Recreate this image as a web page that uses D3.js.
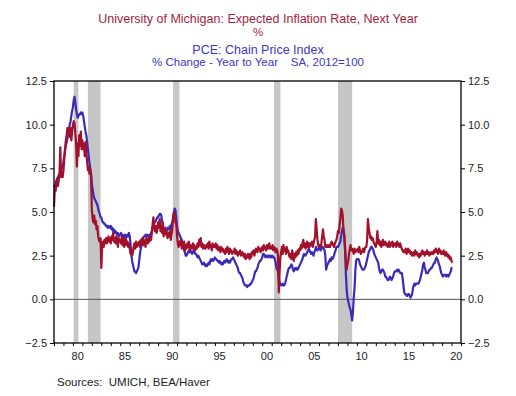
<!DOCTYPE html>
<html>
<head>
<meta charset="utf-8">
<script src="https://cdn.jsdelivr.net/npm/d3@7"></script>
<style>
  body { margin: 0; background: #fff; }
  text { font-family: "Liberation Sans", Arial, Helvetica, sans-serif; }
</style>
</head>
<body>
<div id="chart"></div>
<script>
// monthly values, Jan 1978 .. Feb 2020
const startYear = 1978;

const michigan = [
  5.3, 6.3, 6.2, 6.6, 6.9, 6.5, 6.8, 7.2, 8.7, 7.0, 7.3, 7.0,
  7.4, 8.0, 8.6, 9.1, 9.4, 9.8, 9.8, 9.7, 9.3, 9.8, 9.1, 9.6,
  10.0, 10.2, 10.1, 9.5, 9.0, 7.6, 8.9, 8.2, 9.4, 8.8, 9.6, 8.6,
  9.1, 8.6, 8.9, 8.2, 9.0, 8.4, 7.9, 7.4, 7.6, 7.2, 7.4, 7.0,
  5.1, 4.6, 4.4, 4.8, 4.3, 4.5, 4.0, 4.2, 3.6, 3.4, 3.3, 3.5,
  1.8, 3.1, 3.3, 3.0, 3.4, 3.2, 3.5, 3.2, 3.4, 3.6, 3.3, 3.5,
  3.2, 3.6, 3.4, 3.8, 3.3, 3.5, 3.2, 3.6, 3.4, 3.0, 3.5, 3.3,
  3.4, 3.2, 3.6, 3.1, 3.4, 3.0, 3.3, 3.5, 3.1, 3.3, 3.0, 3.2,
  2.9, 2.6, 2.8, 2.5, 2.7, 3.0, 3.2, 2.9, 3.3, 3.0, 3.2, 3.1,
  3.3, 3.0, 3.4, 3.2, 3.5, 3.1, 3.4, 3.3, 3.0, 3.5, 3.4, 3.2,
  3.5, 3.3, 3.6, 3.4, 3.8, 4.3, 4.7, 4.1, 3.9, 4.2, 3.8, 4.0,
  4.4, 4.1, 4.6, 3.9, 4.2, 3.8, 4.4, 3.6, 3.9, 4.1, 3.7, 3.8,
  3.5, 3.8, 3.6, 3.9, 3.4, 3.7, 4.0, 4.6, 5.0, 4.8, 4.4, 4.3,
  3.6, 3.2, 3.0, 3.3, 3.1, 3.4, 2.9, 3.2, 3.0, 3.3, 2.8, 3.1,
  2.9, 3.2, 3.0, 3.3, 2.8, 3.1, 3.0, 2.9, 3.2, 2.9, 3.1, 2.8,
  3.0, 2.9, 3.2, 3.0, 3.4, 3.1, 3.5, 3.0, 3.2, 2.9, 3.1, 3.0,
  2.9, 3.1, 3.0, 3.2, 2.9, 3.3, 3.0, 3.1, 2.8, 3.2, 3.0, 3.1,
  3.0, 3.2, 2.9, 3.1, 2.8, 3.0, 2.9, 2.7, 3.0, 2.8, 2.9, 2.7,
  2.8, 2.6, 2.9, 2.7, 3.0, 2.8, 2.6, 2.9, 2.7, 2.8, 2.6, 2.7,
  2.7, 2.9, 2.6, 2.8, 2.7, 2.5, 2.7, 2.6, 2.8, 2.5, 2.6, 2.7,
  2.5, 2.4, 2.6, 2.3, 2.5, 2.4, 2.6, 2.5, 2.3, 2.6, 2.4, 2.7,
  2.6, 2.8, 2.5, 2.7, 2.9, 2.8, 2.7, 3.0, 2.8, 2.9, 2.7, 2.9,
  3.0, 2.8, 3.1, 2.9, 3.0, 2.8, 3.1, 2.9, 3.0, 3.2, 2.9, 3.0,
  2.9, 3.1, 2.8, 3.0, 2.9, 2.7, 2.9, 2.8, 2.5, 0.4, 1.6, 2.4,
  2.7, 3.0, 2.6, 3.1, 2.8, 2.9, 2.6, 3.0, 2.7, 2.8, 2.5, 2.4,
  2.6, 2.3, 2.8, 2.5, 2.2, 2.6, 2.4, 2.7, 2.5, 2.8, 2.6, 2.9,
  2.8, 3.1, 2.9, 3.2, 3.4, 3.0, 3.2, 2.9, 3.1, 3.3, 3.0, 3.2,
  3.0, 3.2, 3.1, 3.3, 3.0, 3.2, 3.4, 3.6, 4.6, 4.0, 3.4, 3.1,
  3.0, 3.1, 3.0, 3.2, 3.6, 4.0, 3.6, 3.4, 3.0, 3.1, 3.0, 3.1,
  3.0, 3.1, 3.0, 3.2, 3.3, 3.2, 3.1, 3.0, 3.2, 3.3, 3.4, 3.6,
  3.9, 3.8, 4.2, 4.6, 5.2, 5.1, 4.8, 4.0, 3.7, 3.0, 2.2, 1.7,
  2.0, 2.2, 2.6, 2.9, 3.1, 2.8, 2.9, 2.8, 2.6, 2.9, 2.7, 2.8,
  2.8, 2.9, 2.7, 3.0, 2.8, 2.6, 2.7, 2.8, 2.9, 2.7, 2.9, 3.0,
  3.0, 3.4, 4.6, 4.1, 3.8, 3.5, 3.6, 3.4, 3.5, 3.3, 3.2, 3.1,
  3.0, 3.3, 3.9, 3.2, 3.4, 3.1, 3.3, 3.0, 3.2, 3.4, 3.1, 3.2,
  3.3, 3.1, 3.2, 3.0, 3.1, 3.3, 3.0, 3.2, 3.1, 3.3, 3.0, 3.2,
  3.1, 3.2, 3.0, 3.3, 3.1, 3.2, 3.0, 3.2, 3.0, 2.9, 2.8, 2.7,
  2.8, 2.7, 2.9, 2.6, 2.8, 2.9, 2.7, 2.8, 2.6, 2.7, 2.5, 2.6,
  2.7, 2.5, 2.8, 2.6, 2.7, 2.5, 2.6, 2.4, 2.6, 2.5, 2.7, 2.8,
  2.6, 2.7, 2.5, 2.7, 2.6, 2.8, 2.6, 2.7, 2.5, 2.6, 2.7, 2.6,
  2.7, 2.6, 2.8, 2.7, 2.9, 2.7, 2.8, 2.6, 2.9, 2.7, 2.8, 2.6,
  2.7, 2.6, 2.8, 2.6, 2.5, 2.7, 2.5, 2.6, 2.4, 2.5, 2.3, 2.4,
  2.2, 2.1
];

const pce = [
  6.4, 6.5, 6.6, 6.8, 6.9, 7.0, 7.1, 7.2, 7.3, 7.4, 7.5, 7.6,
  7.9, 8.2, 8.5, 8.8, 9.0, 9.2, 9.5, 9.8, 10.0, 10.2, 10.5, 10.8,
  11.0, 11.4, 11.6, 11.3, 10.9, 10.6, 10.4, 10.5, 10.6, 10.6, 10.7, 10.6,
  10.7, 10.5, 10.2, 9.9, 9.6, 9.4, 9.0, 8.6, 8.2, 7.8, 7.5, 7.2,
  6.6, 6.3, 6.0, 5.8, 5.7, 5.6, 5.5, 5.4, 5.2, 5.0, 4.9, 4.7,
  4.7, 4.5, 4.4, 4.4, 4.3, 4.3, 4.2, 4.2, 4.1, 4.2, 4.1, 4.1,
  4.2, 4.0, 4.1, 3.9, 4.0, 3.8, 3.9, 3.8, 3.7, 3.8, 3.6, 3.7,
  3.7, 3.8, 3.6, 3.7, 3.5, 3.6, 3.7, 3.5, 3.6, 3.7, 3.6, 3.8,
  3.6, 3.2, 2.6, 2.2, 2.0, 1.8, 1.6, 1.6, 1.5, 1.6, 1.7, 1.8,
  2.2, 2.6, 2.9, 3.1, 3.3, 3.5, 3.6, 3.6, 3.7, 3.6, 3.7, 3.6,
  3.6, 3.7, 3.6, 3.8, 3.9, 4.1, 4.3, 4.4, 4.4, 4.5, 4.6, 4.7,
  4.7, 4.8, 4.9, 4.9, 4.8, 4.5, 4.2, 3.9, 3.8, 3.9, 3.8, 3.9,
  4.1, 4.0, 4.1, 4.2, 4.0, 4.3, 4.4, 4.7, 5.0, 5.2, 5.1, 4.7,
  4.2, 3.9, 3.8, 3.7, 3.6, 3.5, 3.4, 3.2, 3.0, 2.8, 2.7, 2.5,
  2.5, 2.6, 2.7, 2.8, 2.7, 2.8, 2.7, 2.6, 2.7, 2.8, 2.7, 2.6,
  2.6, 2.5, 2.4, 2.5, 2.4, 2.3, 2.2, 2.1, 2.0, 2.0, 2.1, 2.0,
  1.9, 2.0, 1.9, 2.0, 2.1, 2.0, 2.2, 2.3, 2.2, 2.3, 2.2, 2.3,
  2.4, 2.3, 2.3, 2.2, 2.2, 2.1, 2.2, 2.1, 2.0, 2.1, 2.0, 2.1,
  2.2, 2.1, 2.2, 2.3, 2.2, 2.1, 2.2, 2.1, 2.2, 2.3, 2.3, 2.4,
  2.3, 2.2, 2.1, 2.0, 1.9, 1.8, 1.6, 1.5, 1.5, 1.4, 1.3, 1.2,
  1.0, 0.9, 0.8, 0.8, 0.8, 0.7, 0.8, 0.8, 0.8, 0.9, 0.9, 1.0,
  1.1, 1.2, 1.4, 1.6, 1.6, 1.7, 1.8, 2.0, 2.1, 2.2, 2.2, 2.3,
  2.4, 2.6, 2.6, 2.5, 2.4, 2.5, 2.5, 2.4, 2.5, 2.5, 2.4, 2.5,
  2.4, 2.5, 2.4, 2.4, 2.3, 2.1, 1.8, 1.7, 1.6, 1.2, 1.0, 0.9,
  0.8, 0.8, 0.9, 0.8, 0.8, 0.9, 1.1, 1.3, 1.5, 1.7, 1.8, 1.8,
  1.9, 2.0, 1.9, 1.7, 1.6, 1.7, 1.8, 1.7, 1.8, 1.7, 1.8, 1.9,
  2.0, 2.1, 2.2, 2.3, 2.5, 2.6, 2.5, 2.5, 2.6, 2.7, 2.8, 2.9,
  2.8, 2.7, 2.6, 2.7, 2.6, 2.5, 2.7, 2.8, 3.0, 2.9, 2.8, 2.9,
  2.9, 2.9, 2.8, 2.9, 3.0, 3.0, 2.9, 2.8, 2.5, 1.7, 1.9, 2.0,
  2.1, 2.2, 2.3, 2.2, 2.4, 2.3, 2.4, 2.5, 2.7, 2.8, 3.0, 3.0,
  3.0, 3.1, 3.2, 3.3, 3.6, 3.9, 4.1, 4.0, 3.6, 2.8, 1.5, 0.6,
  0.1, -0.1, -0.3, -0.5, -0.6, -0.9, -1.2, -0.7, 0.1, 0.6, 1.6, 2.2,
  2.3, 2.3, 2.3, 2.2, 2.0, 1.9, 1.8, 1.7, 1.7, 1.7, 1.8, 1.9,
  2.1, 2.3, 2.5, 2.7, 2.8, 2.9, 3.0, 3.0, 2.9, 2.8, 2.6, 2.5,
  2.4, 2.3, 2.2, 2.1, 1.8, 1.6, 1.5, 1.6, 1.7, 1.7, 1.6, 1.5,
  1.3, 1.3, 1.2, 1.1, 1.1, 1.2, 1.3, 1.2, 1.1, 1.2, 1.3, 1.5,
  1.6, 1.6, 1.6, 1.7, 1.6, 1.7, 1.6, 1.5, 1.5, 1.5, 1.2, 0.8,
  0.4, 0.3, 0.3, 0.2, 0.2, 0.3, 0.3, 0.2, 0.1, 0.2, 0.3, 0.6,
  0.8, 0.9, 0.8, 0.9, 0.9, 0.9, 0.9, 1.0, 1.1, 1.3, 1.5, 1.7,
  2.0, 2.1, 1.8, 1.7, 1.5, 1.5, 1.5, 1.6, 1.7, 1.7, 1.8, 1.8,
  1.9, 2.0, 2.1, 2.1, 2.3, 2.4, 2.3, 2.2, 2.0, 1.9, 1.7, 1.5,
  1.4, 1.3, 1.4, 1.4, 1.4, 1.3, 1.4, 1.4, 1.3, 1.4, 1.5, 1.6,
  1.8, 1.8
];

// recession shading, decimal years
const recessions = [[1980.08, 1980.58], [1981.58, 1982.92], [1990.58, 1991.25], [2001.25, 2001.92], [2008.0, 2009.5]];

const yTicks = [-2.5, 0, 2.5, 5, 7.5, 10, 12.5];
const xLabels = ['80', '85', '90', '95', '00', '05', '10', '15', '20'];
const xLabelYears = [1980, 1985, 1990, 1995, 2000, 2005, 2010, 2015, 2020];

const width = 516;
const height = 396;
const plot = {left: 54, right: 461, top: 81, bottom: 343};
const redColor = '#a3102b';
const blueColor = '#3a2abb';
const textColor = '#222';

const xScale = d3.scaleLinear().domain([1978, 2021]).range([plot.left, plot.right]);
const yScale = d3.scaleLinear().domain([-2.5, 12.5]).range([plot.bottom, plot.top]);

const svg = d3.select('#chart').append('svg')
    .attr('width', width)
    .attr('height', height);

// titles
const titles = [
  {text: 'University of Michigan: Expected Inflation Rate, Next Year', y: 23, size: 12.5, color: '#a81c3a'},
  {text: '%', y: 36, size: 11.5, color: '#a81c3a'},
  {text: 'PCE: Chain Price Index', y: 54, size: 12.5, color: '#3d37c2'},
  {text: '% Change - Year to Year    SA, 2012=100', y: 66, size: 11.5, color: '#3d37c2'}
];
svg.selectAll('.title').data(titles).join('text')
    .attr('class', 'title')
    .attr('x', 258)
    .attr('y', d => d.y)
    .attr('text-anchor', 'middle')
    .style('white-space', 'pre')
    .style('font-size', d => d.size + 'px')
    .attr('fill', d => d.color)
    .text(d => d.text);

// recession bars
svg.append('g').selectAll('rect').data(recessions).join('rect')
    .attr('x', d => xScale(d[0]))
    .attr('width', d => xScale(d[1]) - xScale(d[0]))
    .attr('y', plot.top)
    .attr('height', plot.bottom - plot.top)
    .attr('fill', '#c6c6c6');

// zero line
svg.append('line')
    .attr('x1', plot.left).attr('x2', plot.right)
    .attr('y1', yScale(0)).attr('y2', yScale(0))
    .attr('stroke', '#555')
    .attr('stroke-width', 1);

const line = d3.line()
    .x((d, i) => xScale(startYear + i / 12))
    .y(d => yScale(d));

svg.append('path')
    .datum(pce)
    .attr('d', line)
    .attr('fill', 'none')
    .attr('stroke', blueColor)
    .attr('stroke-width', 2.2)
    .attr('stroke-linejoin', 'round');

svg.append('path')
    .datum(michigan)
    .attr('d', line)
    .attr('fill', 'none')
    .attr('stroke', redColor)
    .attr('stroke-width', 2.2)
    .attr('stroke-linejoin', 'round');

// frame
svg.append('rect')
    .attr('x', plot.left).attr('y', plot.top)
    .attr('width', plot.right - plot.left)
    .attr('height', plot.bottom - plot.top)
    .attr('fill', 'none')
    .attr('stroke', '#000')
    .attr('stroke-width', 1.3);

// y axes, both sides
const leftAxis = svg.append('g')
    .attr('transform', `translate(${plot.left},0)`)
    .call(d3.axisLeft(yScale).tickValues(yTicks).tickFormat(d3.format('.1f')).tickSize(4).tickPadding(3));
const rightAxis = svg.append('g')
    .attr('transform', `translate(${plot.right},0)`)
    .call(d3.axisRight(yScale).tickValues(yTicks).tickFormat(d3.format('.1f')).tickSize(4).tickPadding(3));

// x axis: yearly ticks, labels centred in the year
const xAxis = svg.append('g')
    .attr('transform', `translate(0,${plot.bottom})`)
    .call(d3.axisBottom(xScale).tickValues(d3.range(1978, 2022)).tickFormat('').tickSize(3));

svg.append('g').selectAll('text').data(xLabels).join('text')
    .attr('x', (d, i) => xScale(xLabelYears[i] + 0.5))
    .attr('y', 360)
    .attr('text-anchor', 'middle')
    .style('font-size', '11px')
    .attr('fill', textColor)
    .text(d => d);

[leftAxis, rightAxis, xAxis].forEach(a => {
  a.select('.domain').remove();
  a.selectAll('.tick line').attr('stroke', '#000');
  a.selectAll('.tick text')
      .style('font-size', '11px')
      .style('font-family', '"Liberation Sans", Arial, sans-serif')
      .attr('fill', textColor);
});

svg.append('text')
    .attr('x', 57)
    .attr('y', 386)
    .style('white-space', 'pre')
    .style('font-size', '11.5px')
    .attr('fill', textColor)
    .text('Sources:  UMICH, BEA/Haver');
</script>
</body>
</html>
